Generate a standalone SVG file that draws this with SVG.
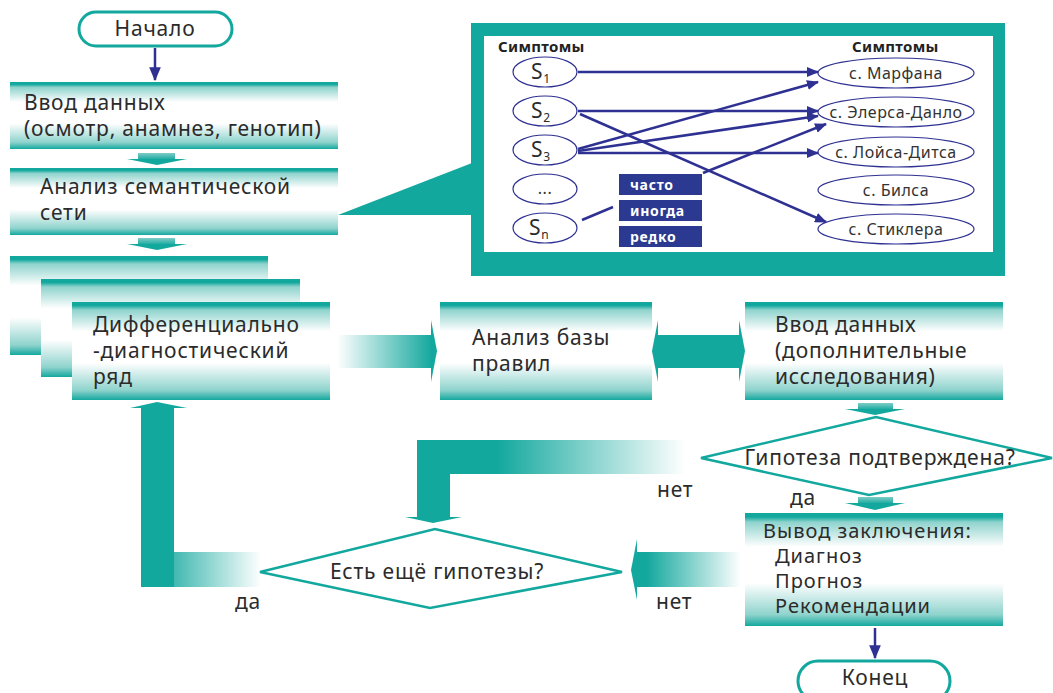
<svg xmlns="http://www.w3.org/2000/svg" width="1053" height="693" viewBox="0 0 1053 693">
<defs>
<linearGradient id="box" x1="0" y1="0" x2="0" y2="1">
<stop offset="0" stop-color="#13a89e"/>
<stop offset="0.035" stop-color="#13a89e"/>
<stop offset="0.08" stop-color="#8fd3cd"/>
<stop offset="0.3" stop-color="#ffffff"/>
<stop offset="0.62" stop-color="#ffffff"/>
<stop offset="0.9" stop-color="#8fd3cd"/>
<stop offset="1" stop-color="#13a89e"/>
</linearGradient>
<linearGradient id="fadeR" x1="0" y1="0" x2="1" y2="0">
<stop offset="0" stop-color="#ffffff"/>
<stop offset="1" stop-color="#13a89e"/>
</linearGradient>
<linearGradient id="fadeL" x1="0" y1="0" x2="1" y2="0">
<stop offset="0" stop-color="#13a89e"/>
<stop offset="0.3" stop-color="#13a89e"/>
<stop offset="1" stop-color="#ffffff"/>
</linearGradient>
<linearGradient id="fadeL2" x1="0" y1="0" x2="1" y2="0">
<stop offset="0" stop-color="#13a89e"/>
<stop offset="0.1" stop-color="#13a89e"/>
<stop offset="1" stop-color="#ffffff"/>
</linearGradient>
<linearGradient id="down" x1="0" y1="0" x2="0" y2="1">
<stop offset="0" stop-color="#7fcdc6"/>
<stop offset="1" stop-color="#13a89e"/>
</linearGradient>
<marker id="ah" viewBox="0 0 12 10" refX="11" refY="5" markerWidth="12" markerHeight="10" markerUnits="userSpaceOnUse" orient="auto">
<path d="M0,0 L12,5 L0,10 Z" fill="#2e3192"/>
</marker>
<marker id="ab" viewBox="0 0 12 10" refX="11" refY="5" markerWidth="14" markerHeight="12" markerUnits="userSpaceOnUse" orient="auto">
<path d="M0,0 L12,5 L0,10 Z" fill="#2e3192"/>
</marker>
</defs>
<style>
.t{font-family:"Noto Sans","Open Sans",sans-serif;font-size:21px;letter-spacing:0.8px;fill:#2b2b2b}
.tc{font-family:"Noto Sans","Open Sans",sans-serif;font-size:20px;letter-spacing:1px;fill:#2b2b2b}
.c{text-anchor:middle}
.s{font-family:"Noto Sans","Open Sans",sans-serif;font-size:16px;letter-spacing:0.5px;fill:#333}
.b{font-family:"Noto Sans","Open Sans",sans-serif;font-size:15px;letter-spacing:0.3px;font-weight:bold;fill:#222}
.lbl{font-family:"Noto Sans","Open Sans",sans-serif;font-size:14px;letter-spacing:0.7px;font-weight:bold;fill:#ffffff}
.term{fill:#ffffff;stroke:#13a89e;stroke-width:3}
.dia{fill:#ffffff;stroke:#13a89e;stroke-width:2.5}
.ell{fill:#ffffff;stroke:#2e3192;stroke-width:1.2}
.bl{stroke:#2e3192;stroke-width:2.5;fill:none}
.teal{fill:#13a89e}
</style>

<g id="connectors">
<line class="bl" x1="155" y1="48" x2="155" y2="80" marker-end="url(#ab)"/>
<rect x="138" y="153" width="37" height="7" fill="url(#down)"/>
<polygon class="teal" points="127,159 187,159 157,165"/>
<rect x="138" y="238" width="37" height="7" fill="url(#down)"/>
<polygon class="teal" points="127,244 187,244 157,250"/>
<polygon class="teal" points="338,215 472,163 472,215"/>
<rect x="337" y="335" width="95" height="33" fill="url(#fadeR)"/>
<polygon class="teal" points="431,320 437,351 431,382"/>
<rect x="657" y="335" width="83" height="33" class="teal"/>
<polygon class="teal" points="658,320 652,351 658,382"/>
<polygon class="teal" points="739,320 745,351 739,382"/>
<rect x="858" y="403" width="35" height="7" fill="url(#down)"/>
<polygon class="teal" points="845,409 905,409 875,415"/>
<rect x="858" y="497" width="35" height="7" fill="url(#down)"/>
<polygon class="teal" points="845,503 905,503 875,510"/>
<line class="bl" x1="875" y1="628" x2="875" y2="658" marker-end="url(#ab)"/>
<rect x="417" y="440" width="268" height="34" fill="url(#fadeL)"/>
<rect x="417" y="440" width="33" height="78" class="teal"/>
<polygon class="teal" points="405,517 462,517 433,523"/>
<rect x="636" y="552" width="105" height="35" fill="url(#fadeL2)"/>
<polygon class="teal" points="637,539 631,570 637,600"/>
<rect x="141" y="552" width="120" height="35" fill="url(#fadeL2)"/>
<rect x="141" y="408" width="33" height="179" class="teal"/>
<polygon class="teal" points="130,408 187,408 157,402"/>
</g>

<g id="start">
<rect class="term" x="79" y="12" width="153" height="34" rx="17"/>
<text class="t c" x="155" y="36">Начало</text>
</g>

<g id="input">
<rect x="10" y="82" width="328" height="67" fill="url(#box)"/>
<text class="t" x="24" y="110">Ввод данных</text>
<text class="t" x="24" y="136">(осмотр, анамнез, генотип)</text>
</g>

<g id="semantic">
<rect x="10" y="168" width="328" height="67" fill="url(#box)"/>
<text class="t" x="40" y="194">Анализ семантической</text>
<text class="t" x="40" y="220">сети</text>
</g>

<g id="diffrow">
<rect x="10" y="256" width="258" height="99" fill="url(#box)"/>
<rect x="41" y="279" width="259" height="98" fill="url(#box)"/>
<rect x="72" y="302" width="258" height="98" fill="url(#box)"/>
<text class="t" x="93" y="332">Дифференциально</text>
<text class="t" x="93" y="358">-диагностический</text>
<text class="t" x="93" y="384">ряд</text>
</g>

<g id="rules">
<rect x="440" y="302" width="212" height="98" fill="url(#box)"/>
<text class="t" x="472" y="345">Анализ базы</text>
<text class="t" x="472" y="371">правил</text>
</g>

<g id="input2">
<rect x="745" y="302" width="258" height="98" fill="url(#box)"/>
<text class="t" x="775" y="332">Ввод данных</text>
<text class="t" x="775" y="358">(дополнительные</text>
<text class="t" x="775" y="384">исследования)</text>
</g>

<g id="confirmed">
<polygon class="dia" points="701,458 876,417 1052,458 869,495"/>
<text class="t c" x="880" y="465">Гипотеза подтверждена?</text>
<text class="t" x="657" y="497">нет</text>
<text class="t" x="790" y="505">да</text>
</g>

<g id="more">
<polygon class="dia" points="260,572 435,529 622,572 430,608"/>
<text class="t c" x="437" y="579">Есть ещё гипотезы?</text>
<text class="t" x="235" y="609">да</text>
<text class="t" x="656" y="609">нет</text>
</g>

<g id="conclusion">
<rect x="745" y="513" width="258" height="113" fill="url(#box)"/>
<text class="tc" x="763" y="538">Вывод заключения:</text>
<text class="tc" x="775" y="563">Диагноз</text>
<text class="tc" x="775" y="588">Прогноз</text>
<text class="tc" x="775" y="613">Рекомендации</text>
</g>

<g id="end">
<rect class="term" x="798" y="661" width="152" height="40" rx="20"/>
<text class="t c" x="875" y="685">Конец</text>
</g>

<g id="network">
<rect x="471" y="23" width="534" height="253" class="teal"/>
<rect x="484" y="36" width="509" height="216" fill="#ffffff"/>
<text class="b" x="498" y="52">Симптомы</text>
<text class="b" x="852" y="52">Симптомы</text>
<g id="sym">
<ellipse class="ell" cx="545" cy="72" rx="32" ry="15"/>
<text class="t" x="531" y="79">S<tspan font-size="12" dy="4">1</tspan></text>
<ellipse class="ell" cx="545" cy="111" rx="32" ry="15"/>
<text class="t" x="531" y="118">S<tspan font-size="12" dy="4">2</tspan></text>
<ellipse class="ell" cx="545" cy="150" rx="32" ry="15"/>
<text class="t" x="531" y="157">S<tspan font-size="12" dy="4">3</tspan></text>
<ellipse class="ell" cx="545" cy="189" rx="32" ry="15"/>
<text class="s c" x="545" y="194">...</text>
<ellipse class="ell" cx="545" cy="228" rx="32" ry="15"/>
<text class="t" x="529" y="235">S<tspan font-size="12" dy="4">n</tspan></text>
</g>
<g id="syndromes">
<ellipse class="ell" cx="896" cy="73" rx="78" ry="15"/>
<text class="s c" x="896" y="79">с. Марфана</text>
<ellipse class="ell" cx="896" cy="112" rx="78" ry="15"/>
<text class="s c" x="896" y="118">с. Элерса-Данло</text>
<ellipse class="ell" cx="896" cy="152" rx="78" ry="15"/>
<text class="s c" x="896" y="158">с. Лойса-Дитса</text>
<ellipse class="ell" cx="896" cy="190" rx="78" ry="15"/>
<text class="s c" x="896" y="196">с. Билса</text>
<ellipse class="ell" cx="896" cy="229" rx="78" ry="15"/>
<text class="s c" x="896" y="235">с. Стиклера</text>
</g>
<g id="freq">
<rect x="619" y="174" width="83" height="21" fill="#2b3990"/>
<text class="lbl" x="630" y="190">часто</text>
<rect x="619" y="200" width="83" height="21" fill="#2b3990"/>
<text class="lbl" x="630" y="216">иногда</text>
<rect x="619" y="226" width="83" height="21" fill="#2b3990"/>
<text class="lbl" x="630" y="242">редко</text>
</g>
<g id="links">
<line class="bl" x1="578" y1="72" x2="818" y2="72" marker-end="url(#ah)"/>
<line class="bl" x1="578" y1="111" x2="818" y2="111" marker-end="url(#ah)"/>
<line class="bl" x1="580" y1="114" x2="826" y2="222" marker-end="url(#ah)"/>
<line class="bl" x1="578" y1="149" x2="818" y2="82" marker-end="url(#ah)"/>
<line class="bl" x1="578" y1="151" x2="818" y2="116" marker-end="url(#ah)"/>
<line class="bl" x1="578" y1="153" x2="818" y2="153" marker-end="url(#ah)"/>
<line class="bl" x1="703" y1="173" x2="826" y2="124" marker-end="url(#ah)"/>
<line class="bl" x1="582" y1="220" x2="613" y2="207"/>
</g>
</g>
</svg>
